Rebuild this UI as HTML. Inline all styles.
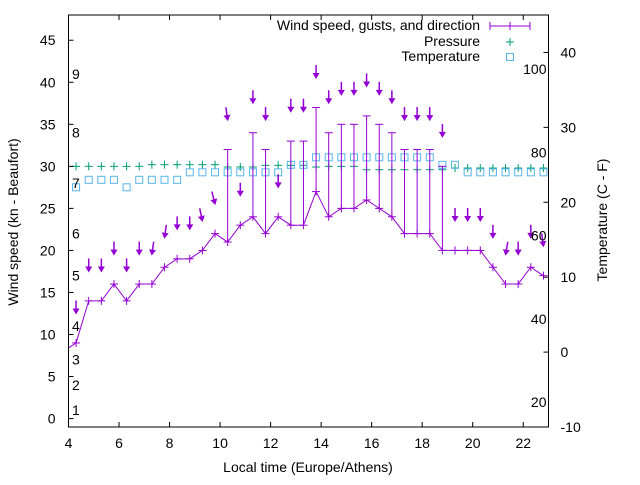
<!DOCTYPE html>
<html><head><meta charset="utf-8"><style>
body{margin:0;background:#fff}
svg{font-family:"Liberation Sans",sans-serif;font-size:14px}
</style></head><body>
<svg id="c" width="640" height="480" viewBox="0 0 640 480" xmlns="http://www.w3.org/2000/svg">
<defs><clipPath id="pc"><rect x="68.5" y="15" width="480" height="412"/></clipPath></defs>
<g id="grid"></g>
<g id="plot" clip-path="url(#pc)"></g>
<rect x="68.5" y="15" width="480" height="412" fill="none" stroke="#000" stroke-width="1"/>
<g id="axes"></g>
<text x="308" y="472" text-anchor="middle">Local time (Europe/Athens)</text>
<text transform="translate(18,222) rotate(-90)" text-anchor="middle">Wind speed (kn - Beaufort)</text>
<text transform="translate(607,220) rotate(-90)" text-anchor="middle">Temperature (C - F)</text>
<g>
<text x="480" y="30" text-anchor="end">Wind speed, gusts, and direction</text>
<g stroke="#9400d3"><line x1="490" y1="26" x2="530" y2="26"/><line x1="490" y1="22" x2="490" y2="30"/><line x1="530" y1="22" x2="530" y2="30"/><line x1="510" y1="22" x2="510" y2="30"/></g>
<text x="480" y="46" text-anchor="end">Pressure</text>
<g stroke="#009e73"><line x1="506" y1="42" x2="514" y2="42"/><line x1="510" y1="38" x2="510" y2="46"/></g>
<text x="480" y="61" text-anchor="end">Temperature</text>
<rect x="506.5" y="53.5" width="7" height="7" fill="none" stroke="#56b4e9"/>
</g>
</svg>
<script>
const times=[3.8,4.3,4.8,5.3,5.8,6.3,6.8,7.3,7.8,8.3,8.8,9.3,9.8,10.3,10.8,11.3,11.8,12.3,12.8,13.3,13.8,14.3,14.8,15.3,15.8,16.3,16.8,17.3,17.8,18.3,18.8,19.3,19.8,20.3,20.8,21.3,21.8,22.3,22.8];
const wind=[8,9,14,14,16,14,16,16,18,19,19,20,22,21,23,24,22,24,23,23,27,24,25,25,26,25,24,22,22,22,20,20,20,20,18,16,16,18,17];
const gusts=[null,null,null,null,null,null,null,null,null,null,null,null,null,32,null,34,32,null,33,33,37,34,35,35,36,35,34,32,32,32,30,null,null,null,null,null,null,null,null];
const dirs=[0,0,0,0,0,0,0,-8,-8,0,0,12,14,8,0,0,0,0,0,0,0,0,0,0,0,0,0,0,0,0,0,0,0,0,0,-10,0,0,8];
const pressure=[1015,1015,1015,1015,1015,1015,1015,1015.5,1015.5,1015.5,1015.5,1015.5,1015.5,1014.8,1014.8,1014.8,1015.3,1015.3,1015.3,1015.3,1014.8,1015,1015,1015,1014,1014,1014,1014,1014,1014,1014,1014.5,1014.5,1014.5,1014.5,1014.5,1014.5,1014.5,1014.5];
const temps=[22,22,23,23,23,22,23,23,23,23,24,24,24,24,24,24,24,24,25,25,26,26,26,26,26,26,26,26,26,26,25,25,24,24,24,24,24,24,24];
const xTicks=[4,6,8,10,12,14,16,18,20,22];
const yTicks=[0,5,10,15,20,25,30,35,40,45];
const y2Ticks=[-10,0,10,20,30,40];
const fLabels=[20,40,60,80,100];
const beaufortKn=[1,4,7,11,17,22,28,34,41];
const beaufortLabels=["1","2","3","4","5","6","7","8","9"];

const L=68.5,R=548.5,T=15,B=427;
const X=t=>L+(t-4)/(23-4)*(R-L);
const Y=v=>B-(v+1)/(48+1)*(B-T);
const Y2=c=>B-(c+10)/(45+10)*(B-T);
const PY=p=>Y(30+(p-1015)*0.4);
const NS="http://www.w3.org/2000/svg";
const plot=document.getElementById('plot'),axes=document.getElementById('axes');
function mk(tag,at,parent){const e=document.createElementNS(NS,tag);for(const k in at)e.setAttribute(k,at[k]);parent.appendChild(e);return e;}

xTicks.forEach(t=>{
 const g=mk('g',{stroke:'#000'},axes);
 
 
 mk('line',{x1:X(t),y1:B,x2:X(t),y2:B-5},g);mk('line',{x1:X(t),y1:T,x2:X(t),y2:T+5},g);
 const tx=mk('text',{x:X(t),y:B+21,'text-anchor':'middle'},axes);tx.textContent=t;
 
 
});
yTicks.forEach(v=>{
 const ln=mk('line',{x1:L,y1:Y(v),x2:L+5,y2:Y(v),stroke:'#000'},axes);
 
 
 const tx=mk('text',{x:L-13,y:Y(v)+5,'text-anchor':'end'},axes);tx.textContent=v;
 
 
});
y2Ticks.forEach(v=>{
 const ln=mk('line',{x1:R,y1:Y2(v),x2:R-5,y2:Y2(v),stroke:'#000'},axes);
 
 
 const tx=mk('text',{x:R+12,y:Y2(v)+5,'text-anchor':'start'},axes);tx.textContent=v;
 
 
});
fLabels.forEach(f=>{
 const tx=mk('text',{x:R-2,y:Y2((f-32)*5/9)+5,'text-anchor':'end'},axes);tx.textContent=f;
 
 
});
beaufortKn.forEach((k,i)=>{
 const tx=mk('text',{x:72,y:Y(k)+5},axes);tx.textContent=beaufortLabels[i];
 
 
});

// pressure
times.forEach((t,i)=>{
 const x=X(t),y=PY(pressure[i]);
 const g=mk('g',{stroke:'#009e73'},plot);
 
 
 mk('line',{x1:x-4,y1:y,x2:x+4,y2:y},g);mk('line',{x1:x,y1:y-4,x2:x,y2:y+4},g);
});
// temperature
times.forEach((t,i)=>{
 const r=mk('rect',{x:X(t)-3.5,y:Y2(temps[i])-3.5,width:7,height:7,fill:'none',stroke:'#56b4e9'},plot);
 
 
});
// wind line
const pl=mk('polyline',{points:times.map((t,i)=>X(t)+','+Y(wind[i])).join(' '),fill:'none',stroke:'#9400d3'},plot);


times.forEach((t,i)=>{
 const x=X(t),y=Y(wind[i]);
 const g=mk('g',{stroke:'#9400d3'},plot);
 
 
 mk('line',{x1:x-4,y1:y,x2:x+4,y2:y},g);mk('line',{x1:x,y1:y-4,x2:x,y2:y+4},g);
 if(gusts[i]!=null){
  const yg=Y(gusts[i]);
  mk('line',{x1:x,y1:y,x2:x,y2:yg},g);mk('line',{x1:x-4,y1:yg,x2:x+4,y2:yg},g);
 }
 const top=gusts[i]!=null?gusts[i]:wind[i];
 const hy=Y(top+3.5);
 const a=mk('g',{transform:`translate(${x},${hy}) rotate(${-dirs[i]})`},plot);
 
 
 mk('line',{x1:0,y1:-13,x2:0,y2:-3,stroke:'#9400d3','stroke-width':1.5},a);
 mk('polygon',{points:'-3.5,-5 3.5,-5 0,1',fill:'#9400d3'},a);
});
</script>
</body></html>
